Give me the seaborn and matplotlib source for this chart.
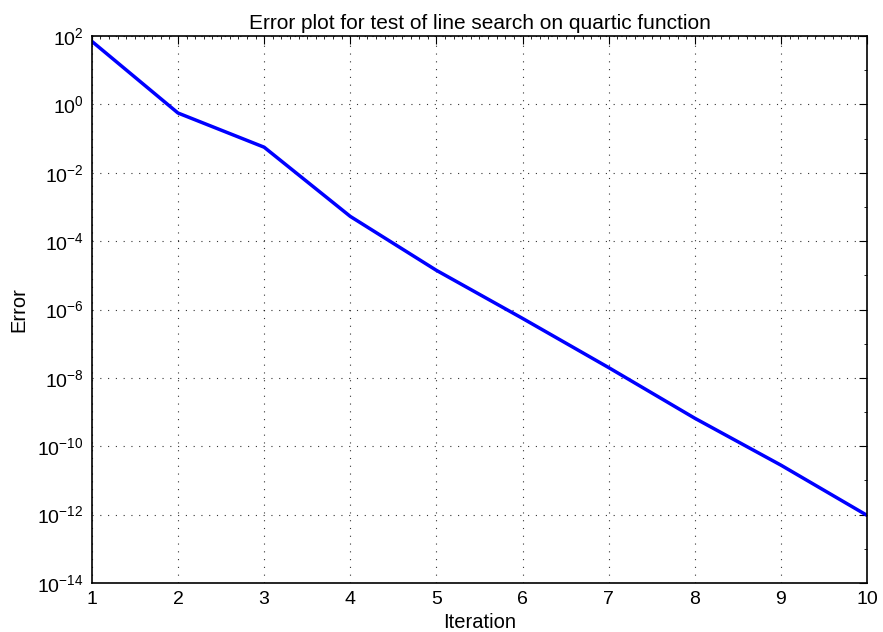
import matplotlib
matplotlib.use("Agg")
import matplotlib.pyplot as plt
import matplotlib.ticker as mticker
import seaborn as sns
import pandas as pd

iterations = [1, 2, 3, 4, 5, 6, 7, 8, 9, 10]
errors = [70, 0.56, 0.056, 5.3e-4, 1.4e-5, 5.5e-7, 2.0e-8, 6.6e-10, 2.8e-11, 9.5e-13]
yticks = [1e2, 1e0, 1e-2, 1e-4, 1e-6, 1e-8, 1e-10, 1e-12, 1e-14]

sns.set_theme(style="white")
plt.rcParams['font.family'] = ['Liberation Sans', 'DejaVu Sans']
plt.rcParams['mathtext.fontset'] = 'custom'
plt.rcParams['mathtext.rm'] = 'Liberation Sans'
plt.rcParams['mathtext.it'] = 'Liberation Sans'
plt.rcParams['text.color'] = 'black'
plt.rcParams['axes.labelcolor'] = 'black'
plt.rcParams['xtick.color'] = 'black'
plt.rcParams['ytick.color'] = 'black'

df = pd.DataFrame({"Iteration": iterations, "Error": errors})

fig = plt.figure(figsize=(8.83, 6.32), dpi=100)
ax = fig.add_axes([0.104, 0.0775, 0.878, 0.8655])
sns.lineplot(data=df, x="Iteration", y="Error", color="#0000ff", linewidth=2.5, ax=ax)
ax.set_yscale("log")
ax.set_xlim(1, 10)
ax.set_ylim(1e-14, 1e2)
ax.set_xticks(iterations)
ax.set_yticks(yticks)
ax.yaxis.set_minor_locator(mticker.LogLocator(base=10, subs=(1.0,), numticks=40))
ax.yaxis.set_minor_formatter(mticker.NullFormatter())
ax.xaxis.set_minor_locator(mticker.MultipleLocator(0.1))
ax.tick_params(which="major", direction="in", top=True, right=True, labelsize=14,
               length=6, width=0.8, colors="black", pad=6)
ax.tick_params(which="minor", direction="in", top=True, right=True, length=2.5,
               width=0.6, colors="black")
ax.grid(True, which="major", linestyle=(0, (1, 6)), color="black", linewidth=0.8, alpha=0.8)
for s in ax.spines.values():
    s.set_color("black")
    s.set_linewidth(1.2)
ax.set_xlabel("Iteration", fontsize=14.5, labelpad=3, color="black")
ax.set_ylabel("Error", fontsize=14.5, labelpad=6, color="black")
ax.set_title("Error plot for test of line search on quartic function", fontsize=15,
             pad=5, color="black")
fig.savefig("out.png", dpi=100)
